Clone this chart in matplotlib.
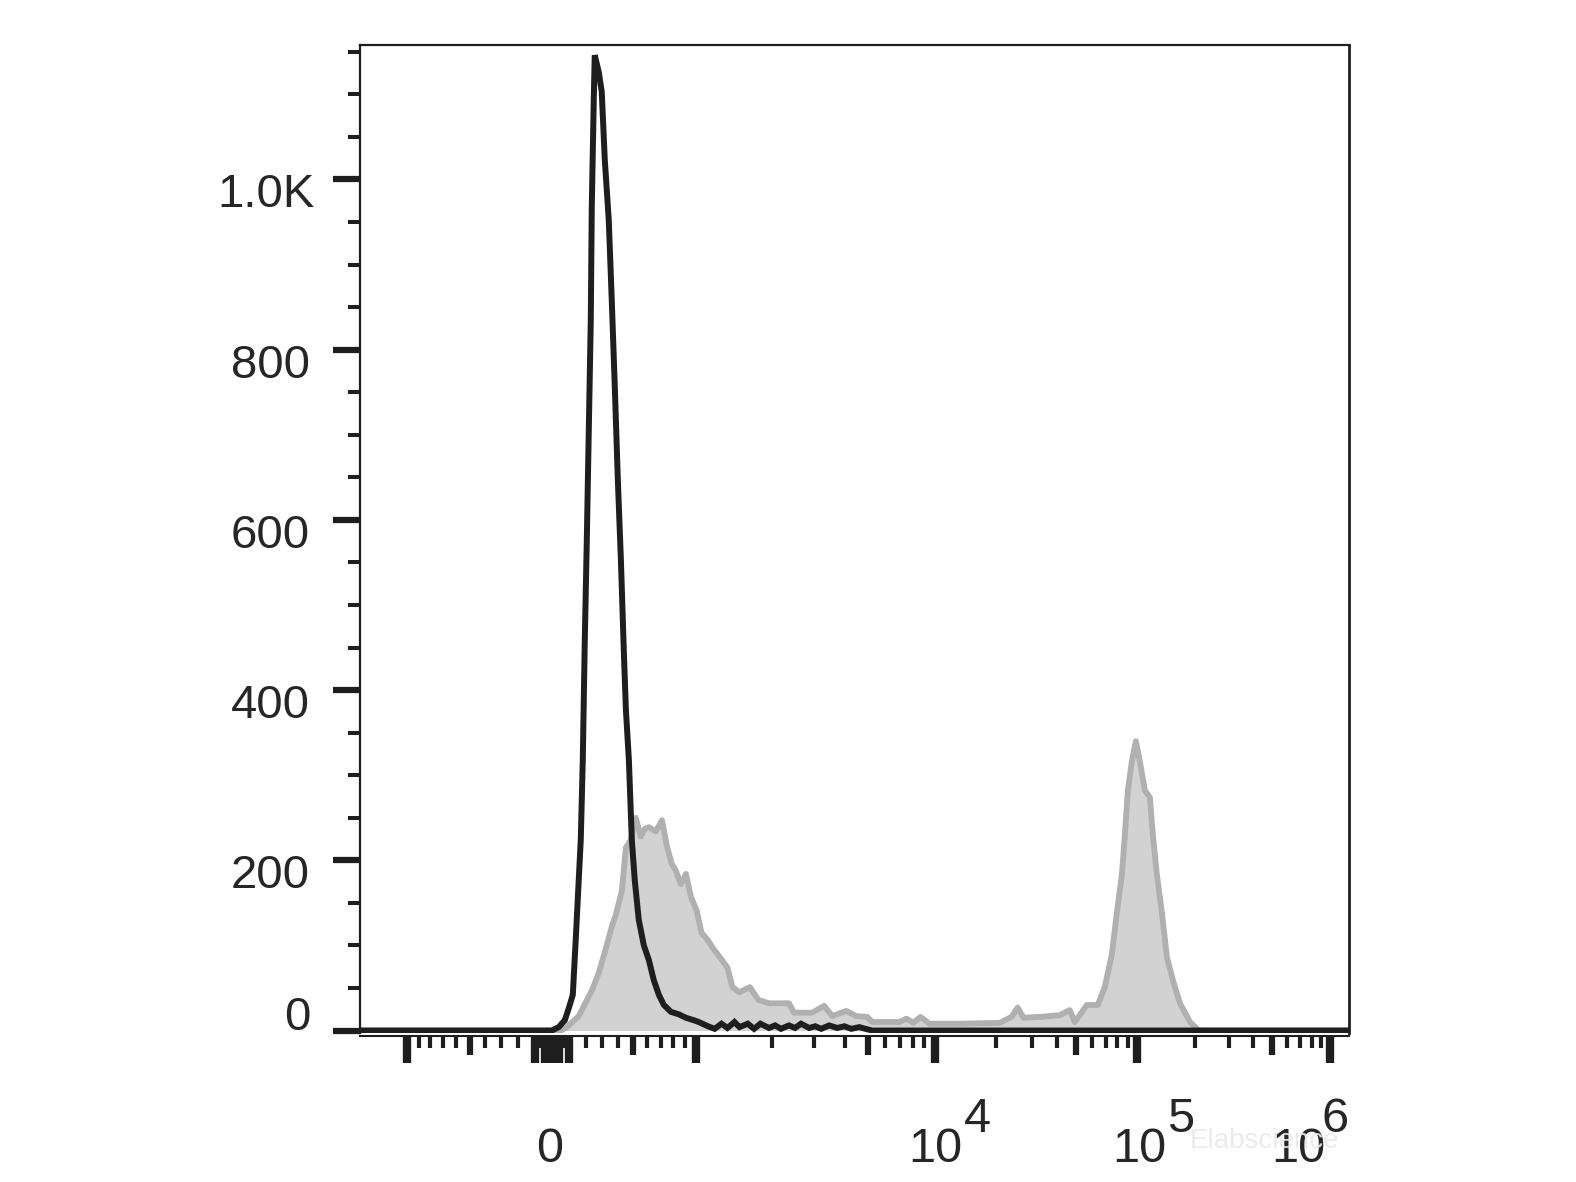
import numpy as np
import matplotlib
matplotlib.use('Agg')
import matplotlib.pyplot as plt
from matplotlib.ticker import FixedLocator, NullFormatter

plt.rcParams['font.family'] = ['Liberation Sans', 'DejaVu Sans']

# ---- biexponential display axis (tick value -> display units from zero) ----
scale_vals = [0, 1000, 2000, 3000, 4000, 5000, 6000, 7000, 8000, 9000, 1e4, 1e5, 1e6, 1e7]
scale_disp = [0, 144, 220, 262, 293, 316, 333, 348, 361, 372, 383, 584, 777, 970]
LIN_W = 800.0

# ---- histogram data (fluorescence intensity, event count) ----
black_x = [-2000, 0, 41, 76, 99, 123, 140, 158, 170, 182, 194, 206, 218, 230, 236,
           248, 254, 279, 297, 316, 341, 360, 380, 399, 419, 438, 452, 472, 492,
           512, 540, 576, 612, 649, 687, 726, 782, 848, 909, 982, 1028, 1126, 1200,
           1279, 1351, 1440, 1507, 1621, 1713, 1809, 1946, 2059, 2181, 2356, 2498,
           2646, 2858, 3028, 3201, 3448, 3714, 3964, 4240, 4582, 4858, 5219, 2e6]
black_y = [0, 0, 4, 12, 26, 42, 106, 177, 224, 318, 459, 576, 706, 835, 968,
           1093, 1146, 1126, 1103, 1023, 952, 858, 753, 647, 553, 447, 377, 318, 224,
           177, 130, 100, 83, 59, 42, 30, 22, 19, 15, 12, 10, 5, 2,
           8, 3, 10, 4, 8, 2, 8, 3, 6, 2, 6, 3,
           8, 3, 5, 2, 6, 3, 5, 2, 4, 2, 0, 0]

gray_x = [-2000, 0, 52, 82, 158, 236, 279, 322, 360, 386, 425, 452, 485, 519, 554,
          583, 612, 664, 711, 749, 789, 822, 865, 909, 954, 1009, 1056, 1126, 1178,
          1268, 1351, 1414, 1507, 1651, 1777, 1946, 2356, 2473, 2943, 3292, 3545,
          4039, 4450, 4950, 5219, 6928, 7445, 8000, 8622, 9442, 13160, 20820, 23880,
          25580, 27410, 32910, 41390, 46420, 49150, 52040, 56390, 63970, 69310,
          75080, 79530, 84230, 87160, 90200, 94430, 98860, 103640, 110030, 116760,
          121050, 126950, 134750, 143050, 153650, 167050, 188230, 204640, 210000, 2e6]
gray_y = [0, 0, 0, 3, 17, 47, 68, 96, 122, 136, 164, 215, 224, 250, 228,
          237, 239, 234, 247, 217, 196, 188, 172, 184, 157, 140, 115, 106, 97,
          85, 74, 51, 45, 51, 36, 32, 32, 21, 21, 29, 17,
          23, 17, 16, 10, 10, 14, 9, 16, 8, 8, 9, 16,
          27, 15, 16, 18, 24, 10, 18, 30, 30, 51,
          89, 138, 183, 229, 282, 316, 340, 316, 282, 274,
          229, 183, 138, 86, 59, 32, 10, 2, 0, 0]

y_major = [0, 200, 400, 600, 800, 1000]
y_labels = ['0', '200', '400', '600', '800', '1.0K']
x_label_vals = [1e4, 1e5, 1e6]
x_label_exps = ['4', '5', '6']

txt_color = '#262626'
line_color = '#1e1e1e'

# symmetric anchor tables for the scale
g_pos = np.arcsinh(np.array(scale_vals) / LIN_W)
d_pos = np.array(scale_disp, dtype=float)
g_all = np.concatenate([-g_pos[::-1], g_pos[1:]])
d_all = np.concatenate([-d_pos[::-1], d_pos[1:]])


def biex_fwd(v):
    return np.interp(np.arcsinh(np.asarray(v, dtype=float) / LIN_W), g_all, d_all)


def biex_inv(d):
    return LIN_W * np.sinh(np.interp(np.asarray(d, dtype=float), d_all, g_all))


fig = plt.figure(figsize=(15.76, 11.82), dpi=100)
ax = fig.add_axes([360 / 1576, 1 - 1033 / 1182, 989 / 1576, 988 / 1182])
ax.set_xscale('function', functions=(biex_fwd, biex_inv))

ax.fill_between(gray_x, 0, gray_y, color='#d2d2d2', lw=0, zorder=1)
ax.plot(gray_x, gray_y, color='#b0b0b0', lw=4.2, zorder=2, solid_joinstyle='round')
ax.plot(black_x, black_y, color=line_color, lw=4.3, zorder=3, solid_joinstyle='miter')

ax.set_xlim(-1560, 1.25e6)
ax.set_ylim(-2.9, 1158)

# spines
for s in ['top', 'left']:
    ax.spines[s].set_linewidth(1.6)
ax.spines['right'].set_linewidth(2.0)
ax.spines['bottom'].set_linewidth(1.5)
ax.spines['bottom'].set_position(('outward', 2))
for s in ax.spines.values():
    s.set_color(line_color)

# y ticks
ax.yaxis.set_major_locator(FixedLocator(y_major))
ax.yaxis.set_minor_locator(FixedLocator([v for v in range(50, 1151, 50) if v % 200 != 0]))
ax.yaxis.set_major_formatter(NullFormatter())
ax.tick_params(axis='y', which='major', direction='out', length=19.5, width=4.5,
               color=line_color)
ax.tick_params(axis='y', which='minor', direction='out', length=8.6, width=2.9,
               color=line_color)

# x ticks: long / medium / short
x_long = [-1000, -100, -40, 0, 40, 100, 1000, 1e4, 1e5, 1e6]
x_mid = [-500, 500, 5000, 5e4, 5e5]
x_short = [-v for v in range(200, 1000, 100) if v != 500]
x_short += [s * v for s in (-1, 1) for v in range(10, 100, 10) if v != 40]
x_short += [v for v in range(200, 1000, 100) if v != 500]
x_short += [k * 10 ** n for n in (3, 4, 5) for k in range(2, 10) if k != 5]
x_major = sorted(x_long + x_mid)
ax.xaxis.set_major_locator(FixedLocator(x_major))
ax.xaxis.set_minor_locator(FixedLocator(sorted(x_short)))
ax.xaxis.set_major_formatter(NullFormatter())
ax.xaxis.set_minor_formatter(NullFormatter())
ax.tick_params(axis='x', which='major', direction='out', length=19.5, width=6.0,
               color=line_color)
ax.tick_params(axis='x', which='minor', direction='out', length=8.6, width=3.0,
               color=line_color)
for tick, v in zip(ax.xaxis.get_major_ticks(len(x_major)), x_major):
    if v in x_mid:
        tick.tick1line.set_markersize(13.7)
        tick.tick1line.set_markeredgewidth(4.5)

# y labels (placed just below their ticks, as in the original)
for v, lab in zip(y_major, y_labels):
    dy = 13 if v == 0 else -16
    dx = -45 if v == 1000 else -50
    ax.annotate(lab, xy=(0, v), xycoords=ax.get_yaxis_transform(),
                xytext=(dx, dy), textcoords='offset pixels',
                ha='right', va='center', fontsize=34, color=txt_color,
                annotation_clip=False)

# x labels
ax.annotate('0', xy=(0, 0), xycoords=ax.get_xaxis_transform(),
            xytext=(-2, -117), textcoords='offset pixels',
            ha='center', va='center', fontsize=35, color=txt_color,
            annotation_clip=False)
base_dx = [0, 2, -32]
exp_dx = [42, 44, 5]
for v, e, bdx, edx in zip(x_label_vals, x_label_exps, base_dx, exp_dx):
    ax.annotate('10', xy=(v, 0), xycoords=ax.get_xaxis_transform(),
                xytext=(bdx, -117), textcoords='offset pixels',
                ha='center', va='center', fontsize=35, color=txt_color,
                annotation_clip=False)
    ax.annotate(e, xy=(v, 0), xycoords=ax.get_xaxis_transform(),
                xytext=(edx, -86), textcoords='offset pixels',
                ha='center', va='center', fontsize=35, color=txt_color,
                annotation_clip=False)

# faint watermark
fig.text(1265 / 1576, 1 - 1141 / 1182, 'Elabscience', fontsize=20,
         color='#e9e9e9', alpha=0.9, ha='center', va='center', zorder=10)

fig.savefig('out.png', dpi=100)
